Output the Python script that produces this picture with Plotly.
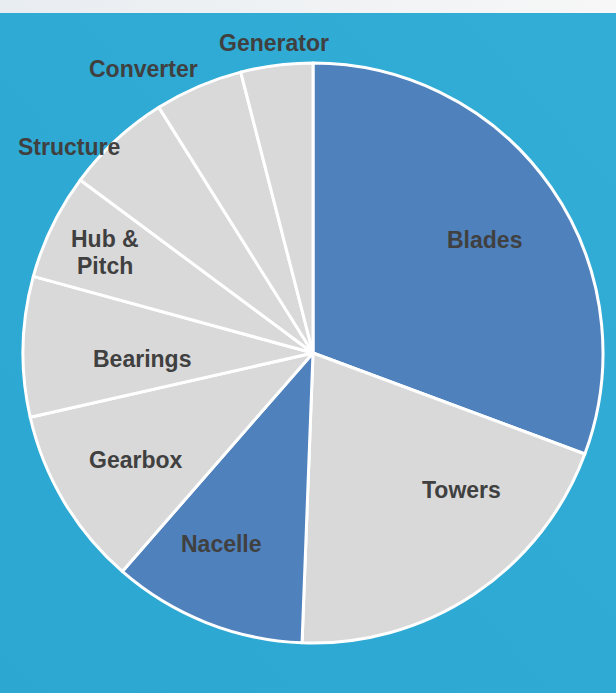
import base64
import plotly.graph_objects as go

# Wind turbine cost breakdown (share of total, %)
components = ["Blades", "Towers", "Nacelle", "Gearbox", "Bearings",
              "Hub & Pitch", "Structure", "Converter", "Generator"]
shares = [30.6, 19.9, 10.8, 10.0, 7.8, 5.9, 5.9, 4.9, 4.0]
highlighted = ["Blades", "Nacelle"]

# label lines and anchor points (paper fractions, centre of the text block)
label_lines = [["Blades"], ["Towers"], ["Nacelle"], ["Gearbox"], ["Bearings"],
               ["Hub &", "Pitch"], ["Structure"], ["Converter"], ["Generator"]]
label_x = [0.796, 0.756, 0.342, 0.194, 0.206, 0.141, 0.079, 0.207, 0.433]
label_y = [0.694, 0.263, 0.171, 0.316, 0.490, 0.673, 0.855, 0.989, 1.034]

W, H = 616, 693
ML, MR, MT, MB = 23, 13, 63, 50
PW, PH = W - ML - MR, H - MT - MB
LINE_STEP = 26.5 / PH

BLUE = "#4F81BD"
GREY = "#D9D9D9"
colors = [BLUE if c in highlighted else GREY for c in components]

fig = go.Figure(go.Pie(
    labels=components,
    values=shares,
    sort=False,
    direction="clockwise",
    rotation=0,
    textinfo="none",
    hoverinfo="label+percent",
    marker=dict(colors=colors, line=dict(color="#FFFFFF", width=3)),
    showlegend=False,
))

label_font = dict(family="Liberation Sans, Arial, sans-serif", size=23,
                  color="#404040", weight="bold")
for lines, x, y in zip(label_lines, label_x, label_y):
    n = len(lines)
    for i, line in enumerate(lines):
        fig.add_annotation(
            text=line, x=x, y=y + ((n - 1) / 2 - i) * LINE_STEP,
            xref="paper", yref="paper",
            xanchor="center", yanchor="middle", showarrow=False,
            font=label_font,
        )

# page background: soft blue gradient with a pale header strip
svg = f"""<svg xmlns='http://www.w3.org/2000/svg' width='{W}' height='{H}'>
<defs>
<linearGradient id='bg' x1='0' y1='1' x2='1' y2='0'>
<stop offset='0' stop-color='#2CA7D2'/><stop offset='1' stop-color='#31ADD6'/>
</linearGradient>
<linearGradient id='hd' x1='0' y1='0' x2='1' y2='0'>
<stop offset='0' stop-color='#E8EDF1'/><stop offset='1' stop-color='#F7F7F7'/>
</linearGradient>
</defs>
<rect width='{W}' height='{H}' fill='url(#bg)'/>
<rect width='{W}' height='13' fill='url(#hd)'/>
</svg>"""
src = "data:image/svg+xml;base64," + base64.b64encode(svg.encode()).decode()

fig.add_layout_image(
    source=src, xref="paper", yref="paper",
    x=-ML / PW, y=1 + MT / PH, sizex=W / PW, sizey=H / PH,
    xanchor="left", yanchor="top", sizing="stretch", layer="below",
)

fig.update_layout(
    width=W, height=H,
    margin=dict(l=ML, r=MR, t=MT, b=MB, autoexpand=False),
    paper_bgcolor="#2EAAD4",
    plot_bgcolor="rgba(0,0,0,0)",
)

fig.write_html("out.html")
